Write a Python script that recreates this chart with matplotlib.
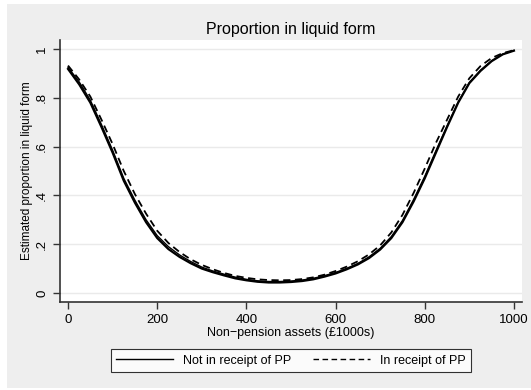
import numpy as np
import matplotlib
matplotlib.use("Agg")
import matplotlib.pyplot as plt
from matplotlib.patches import Rectangle

plt.rcParams['font.family'] = ['Liberation Sans', 'DejaVu Sans']

# non-pension assets (£1000s)
assets = list(range(0, 1001, 25))

# estimated proportion in liquid form
not_pp = [0.918, 0.855, 0.78, 0.68, 0.575, 0.46, 0.37, 0.29, 0.225, 0.18,
          0.148, 0.122, 0.10, 0.085, 0.072, 0.06, 0.052, 0.046, 0.043, 0.043,
          0.045, 0.049, 0.056, 0.067, 0.08, 0.097, 0.117, 0.143, 0.178, 0.225,
          0.29, 0.375, 0.47, 0.575, 0.68, 0.78, 0.86, 0.91, 0.95, 0.978, 0.993]
not_pp_b = [0.925, 0.865, 0.79, 0.69, 0.585, 0.47, 0.38, 0.30, 0.235, 0.19,
            0.156, 0.129, 0.106, 0.09, 0.077, 0.065, 0.056, 0.05, 0.047, 0.047,
            0.049, 0.053, 0.06, 0.071, 0.084, 0.101, 0.121, 0.148, 0.183, 0.231,
            0.297, 0.383, 0.478, 0.583, 0.685, 0.783, 0.863, 0.913, 0.952, 0.979, 0.994]
in_pp = [0.932, 0.875, 0.805, 0.71, 0.61, 0.50, 0.405, 0.325, 0.255, 0.205,
         0.168, 0.138, 0.115, 0.097, 0.082, 0.07, 0.062, 0.056, 0.053, 0.052,
         0.053, 0.057, 0.064, 0.075, 0.09, 0.108, 0.13, 0.158, 0.195, 0.248,
         0.32, 0.41, 0.51, 0.615, 0.71, 0.805, 0.88, 0.93, 0.963, 0.983, 0.995]

fig = plt.figure(figsize=(5.31, 3.9), dpi=100)
fig.patch.set_facecolor('white')
fig.patches.append(Rectangle((7 / 531, 0.005), 1, 1 - 4 / 390 - 0.005, transform=fig.transFigure,
                             facecolor='#eeeeee', edgecolor='none', zorder=-10))

ax = fig.add_axes([0.113, 0.2256, 0.870, 0.672])
ax.set_facecolor('white')

ax.plot(assets, not_pp_b, color='black', lw=1.0)
ax.plot(assets, not_pp, color='black', lw=1.6, label='Not in receipt of PP')
ax.plot(assets, in_pp, color='black', lw=1.3, ls=(0, (4, 2.5)), label='In receipt of PP')

ax.set_xlim(-18, 1018)
ax.set_ylim(-0.037, 1.037)
ax.set_xticks([0, 200, 400, 600, 800, 1000])
ax.set_yticks([0, 0.2, 0.4, 0.6, 0.8, 1])
ax.set_yticklabels(['0', '.2', '.4', '.6', '.8', '1'], rotation=90, va='center')
ax.grid(axis='y', color='#eaeaea', lw=1)
ax.set_axisbelow(True)
for s in ['top', 'right']:
    ax.spines[s].set_visible(False)
for s in ['left', 'bottom']:
    ax.spines[s].set_color('#333333')
    ax.spines[s].set_linewidth(1.2)
ax.tick_params(labelsize=9.5, length=5, width=1, color='#333333', direction='out')

ax.set_title('Proportion in liquid form', fontsize=11.5, pad=4)
ax.set_xlabel('Non\u2212pension assets (£1000s)', fontsize=9, labelpad=1)
ax.set_ylabel('Estimated proportion in liquid form', fontsize=8.5, labelpad=2)

leg = ax.legend(loc='upper center', bbox_to_anchor=(0.5, -0.155), ncol=2, fontsize=9,
                frameon=True, fancybox=False, edgecolor='black', handlelength=4.5,
                columnspacing=1.8, borderpad=0.45)
leg.get_frame().set_linewidth(0.8)
for h in leg.get_lines():
    h.set_linewidth(1.0)

fig.savefig('out.png', dpi=100, facecolor=fig.get_facecolor())
